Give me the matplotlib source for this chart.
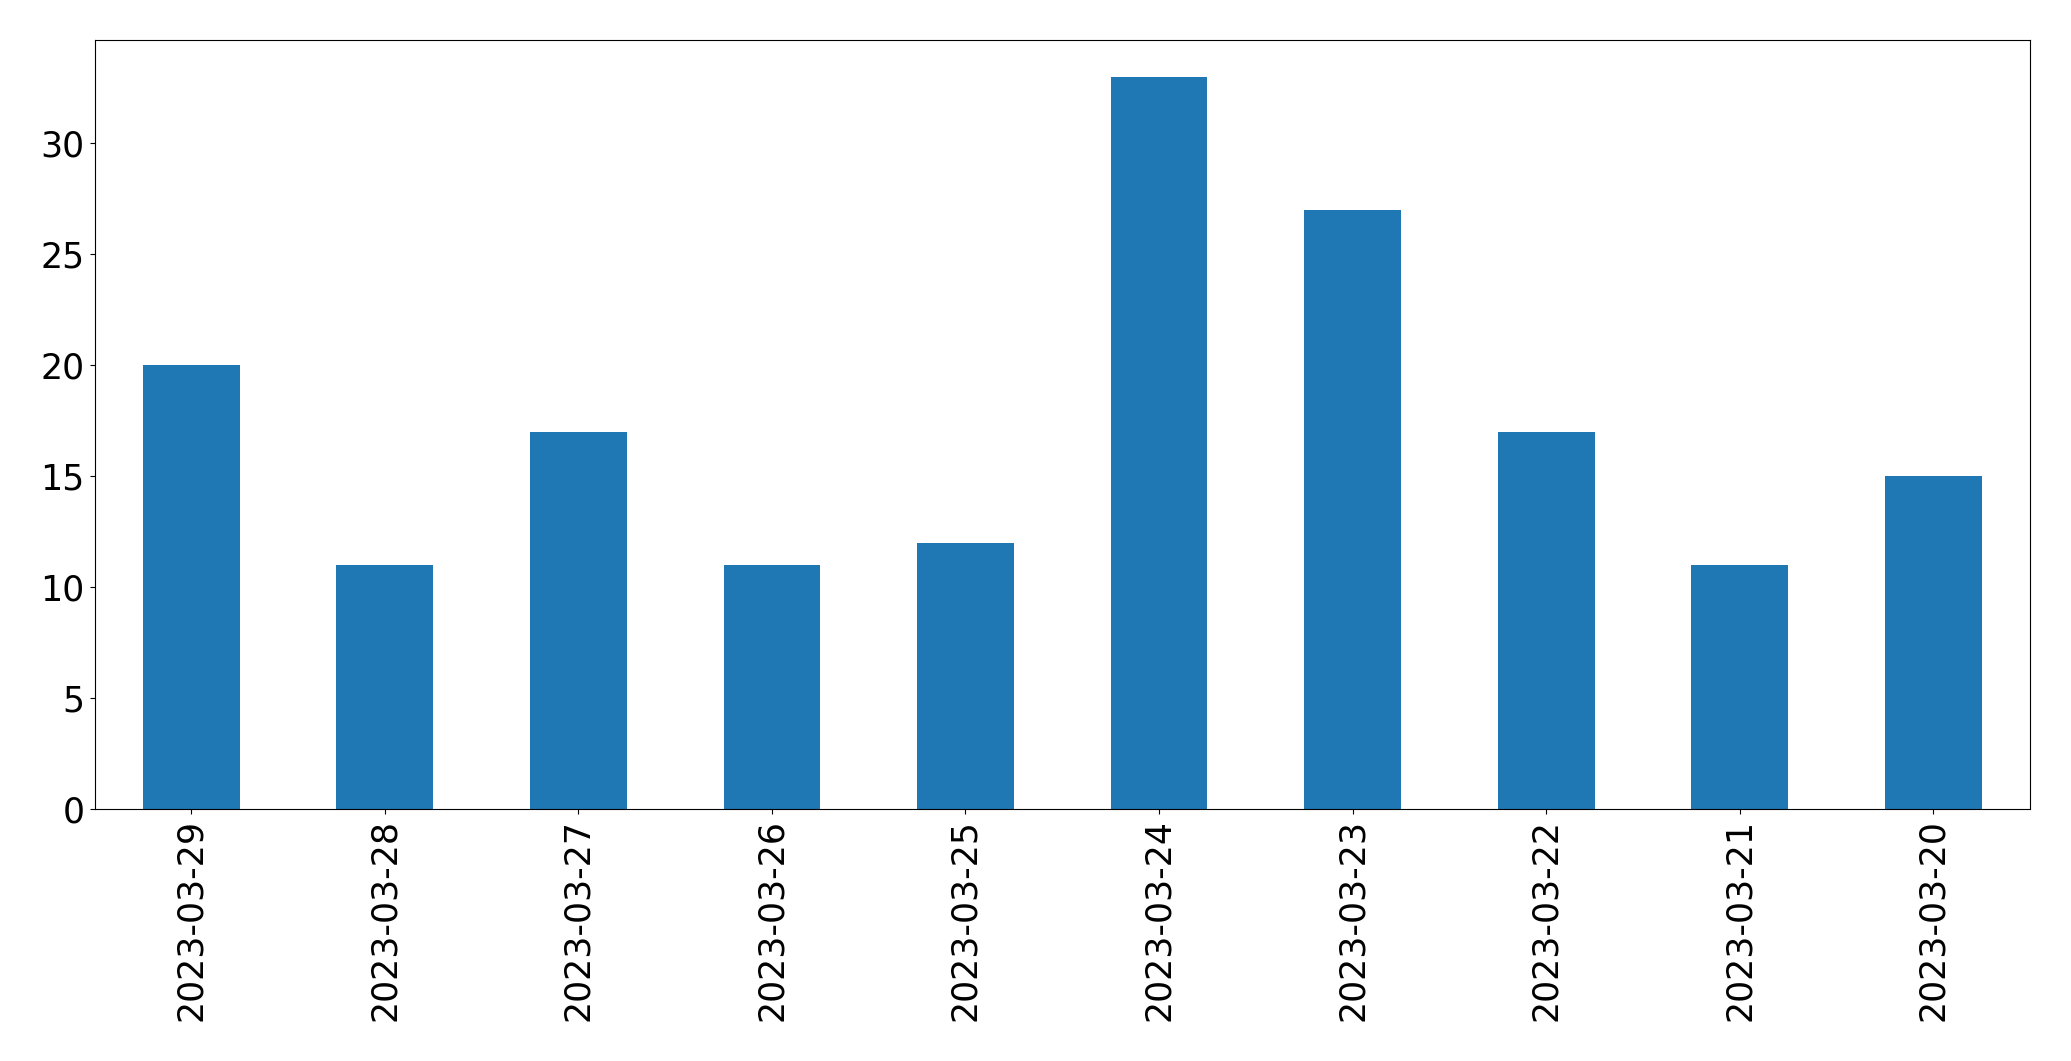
import matplotlib
matplotlib.use("Agg")
import matplotlib.pyplot as plt
import numpy as np

dates = ["2023-03-29", "2023-03-28", "2023-03-27", "2023-03-26", "2023-03-25",
         "2023-03-24", "2023-03-23", "2023-03-22", "2023-03-21", "2023-03-20"]
counts = [20, 11, 17, 11, 12, 33, 27, 17, 11, 15]

fig = plt.figure(figsize=(20.71, 10.61), dpi=100)
ax = fig.add_axes([94.5/2071, 1 - 809/1061, (2030 - 94.5)/2071, (809 - 40)/1061])
x = np.arange(len(dates))
ax.bar(x, counts, width=0.5, color="#1f77b4")
ax.set_xlim(-0.5, len(dates) - 0.5)
ax.set_xticks(x)
ax.set_xticklabels(dates, rotation=90)
ax.tick_params(axis="both", labelsize=25)
fig.savefig("out.png", dpi=100)
